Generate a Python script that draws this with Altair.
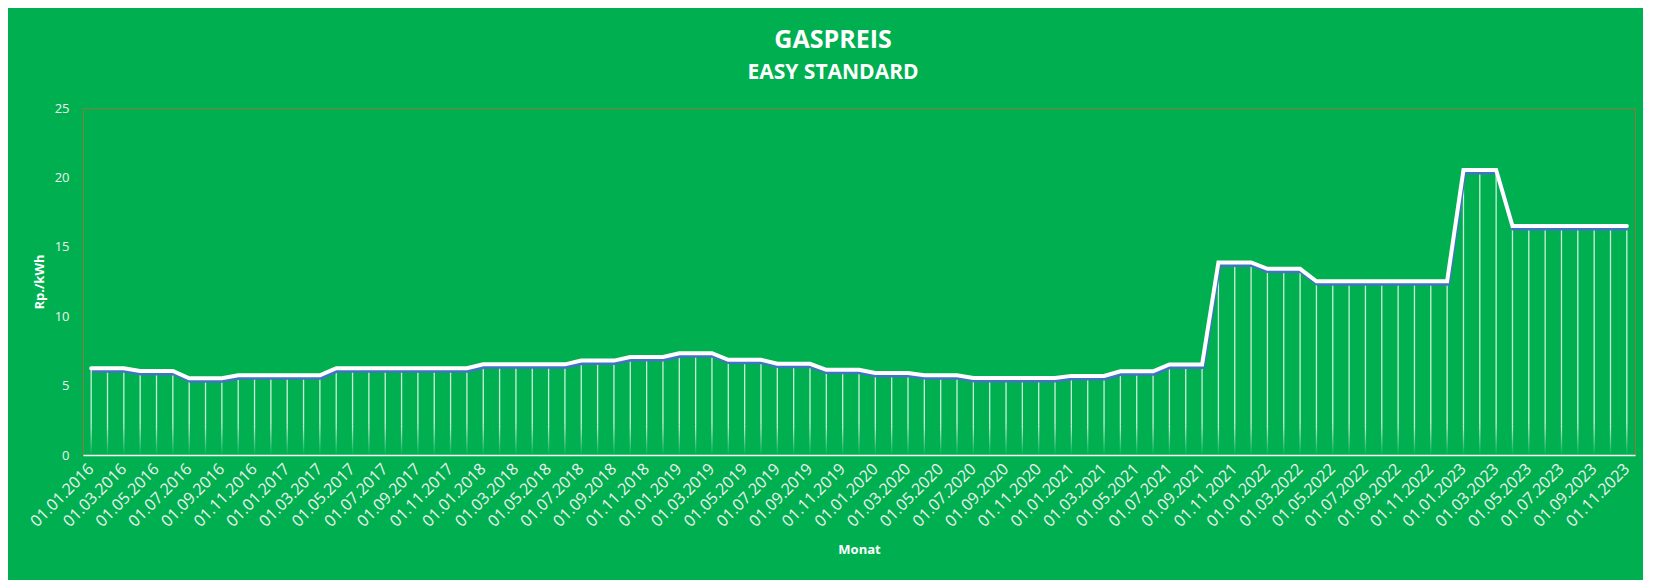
import altair as alt
import pandas as pd

# Categories: monthly dates 01.01.2016 .. 01.11.2023
years = [2016, 2017, 2018, 2019, 2020, 2021, 2022, 2023]
month_nums = ["01", "02", "03", "04", "05", "06", "07", "08", "09", "10", "11", "12"]
months = [f"01.{m}.{y}" for y in years for m in month_nums][:95]

# Gas price, Rp./kWh
prices = [
    6.25, 6.25, 6.25,
    6.05, 6.05, 6.05,
    5.53, 5.53, 5.53,
    5.74, 5.74, 5.74, 5.74, 5.74, 5.74,
    6.25, 6.25, 6.25, 6.25, 6.25, 6.25, 6.25, 6.25, 6.25,
    6.53, 6.53, 6.53, 6.53, 6.53, 6.53,
    6.80, 6.80, 6.80,
    7.06, 7.06, 7.06,
    7.33, 7.33, 7.33,
    6.86, 6.86, 6.86,
    6.57, 6.57, 6.57,
    6.14, 6.14, 6.14,
    5.91, 5.91, 5.91,
    5.74, 5.74, 5.74,
    5.55, 5.55, 5.55, 5.55, 5.55, 5.55,
    5.70, 5.70, 5.70,
    6.03, 6.03, 6.03,
    6.52, 6.52, 6.52,
    13.87, 13.87, 13.87,
    13.41, 13.41, 13.41,
    12.52, 12.52, 12.52, 12.52, 12.52, 12.52, 12.52, 12.52, 12.52,
    20.53, 20.53, 20.53,
    16.49, 16.49, 16.49, 16.49, 16.49, 16.49, 16.49, 16.49,
]

y_ticks = [0, 5, 10, 15, 20, 25]
x_tick_labels = months[::2]

df = pd.DataFrame({"Monat": months, "Preis": prices})

GREEN = "#00B050"
FONT = "Open Sans"

x_scale = alt.Scale(type="band", paddingInner=0, paddingOuter=0)
y_scale = alt.Scale(domain=[0, 25], nice=False)

x_axis = alt.Axis(
    values=x_tick_labels,
    labelAngle=-45,
    labelAlign="right",
    labelBaseline="middle",
    labelPadding=11,
    labelFontSize=16,
    labelColor="#F0F0F0",
    labelFont=FONT,
    ticks=False,
    domainColor="white",
    domainWidth=1.5,
    grid=False,
    title="Monat",
    titleFontSize=13,
    titleFontWeight="bold",
    titleColor="white",
    titleFont=FONT,
    titlePadding=14,
)
y_axis = alt.Axis(
    values=y_ticks,
    labelFontSize=13,
    labelColor="#F0F0F0",
    labelFont=FONT,
    labelPadding=14,
    ticks=False,
    domain=False,
    grid=False,
    title="Rp./kWh",
    titleFontSize=13,
    titleFontWeight="bold",
    titleColor="white",
    titleFont=FONT,
    titlePadding=8,
)

base = alt.Chart(df)

xenc = alt.X("Monat:O", sort=months, scale=x_scale, axis=x_axis)
xenc_mid = alt.X("Monat:O", sort=months, scale=x_scale, axis=x_axis, bandPosition=0.5)

drop_solid = base.mark_bar(size=1.3, color="white", opacity=0.8).encode(
    x=xenc,
    y=alt.Y("Preis:Q", scale=y_scale, axis=y_axis),
    y2=alt.datum(2.2),
)

fade = alt.LinearGradient(
    gradient="linear",
    x1=0, x2=0, y1=0, y2=1,
    stops=[
        alt.GradientStop(color="rgba(255,255,255,0.8)", offset=0),
        alt.GradientStop(color="rgba(255,255,255,0.0)", offset=1),
    ],
)
drop_fade = base.mark_bar(size=1.3, color=fade).encode(
    x=xenc,
    y=alt.datum(2.2),
    y2=alt.datum(0),
)

shadow = base.mark_line(color="#4472C4", strokeWidth=4, yOffset=2.5, xOffset=1).encode(
    x=xenc_mid,
    y=alt.Y("Preis:Q", scale=y_scale, axis=y_axis),
)
line = base.mark_line(color="white", strokeWidth=4, strokeCap="round").encode(
    x=xenc_mid,
    y=alt.Y("Preis:Q", scale=y_scale, axis=y_axis),
)

chart = alt.layer(drop_fade, drop_solid, shadow, line).properties(
    width=1552,
    height=347,
    padding={"left": 75, "top": 100, "right": 8, "bottom": 125},
    autosize=alt.AutoSizeParams(type="none"),
    background=GREEN,
    title=alt.TitleParams(
        "GASPREIS",
        subtitle="EASY STANDARD",
        font=FONT,
        fontSize=25,
        fontWeight="bold",
        color="white",
        subtitleFont=FONT,
        subtitleFontSize=21,
        subtitleFontWeight="bold",
        subtitleColor="white",
        subtitlePadding=9,
        anchor="middle",
        dx=-26,
        offset=19,
    ),
).configure_view(
    stroke="#8C7A3A", strokeWidth=1
)

chart.save("out.html", embed_options={"renderer": "svg", "actions": False})
